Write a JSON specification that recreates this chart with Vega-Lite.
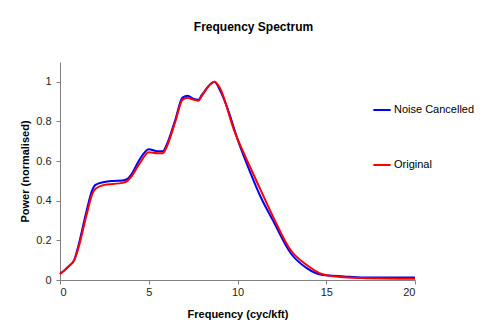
{
  "$schema": "https://vega.github.io/schema/vega-lite/v6.json",
  "autosize": "none",
  "width": 355,
  "height": 218,
  "padding": {"left": 60, "top": 62, "right": 83, "bottom": 53},
  "background": "white",
  "config": {
    "view": {"stroke": null},
    "font": "Liberation Sans",
    "axis": {"labelFont": "Liberation Sans", "labelFontSize": 11, "labelColor": "#222", "titleFont": "Liberation Sans", "titleFontSize": 11, "titleFontWeight": "bold", "titleColor": "#000", "domainColor": "#808080", "tickColor": "#808080", "tickSize": 4, "grid": false}
  },
  "title": {"text": "Frequency Spectrum", "font": "Liberation Sans", "fontSize": 12, "fontWeight": "bold", "color": "#000", "dx": 16, "offset": 28},
  "datasets": {
    "d": [
      {"f": 0, "p": 0.03, "s": "Noise Cancelled"},
      {"f": 0.5, "p": 0.07, "s": "Noise Cancelled"},
      {"f": 0.8, "p": 0.1, "s": "Noise Cancelled"},
      {"f": 1.0, "p": 0.16, "s": "Noise Cancelled"},
      {"f": 1.5, "p": 0.35, "s": "Noise Cancelled"},
      {"f": 1.8, "p": 0.45, "s": "Noise Cancelled"},
      {"f": 2.0, "p": 0.48, "s": "Noise Cancelled"},
      {"f": 2.5, "p": 0.495, "s": "Noise Cancelled"},
      {"f": 3.0, "p": 0.5, "s": "Noise Cancelled"},
      {"f": 3.5, "p": 0.502, "s": "Noise Cancelled"},
      {"f": 3.8, "p": 0.51, "s": "Noise Cancelled"},
      {"f": 4.0, "p": 0.53, "s": "Noise Cancelled"},
      {"f": 4.5, "p": 0.61, "s": "Noise Cancelled"},
      {"f": 5.0, "p": 0.66, "s": "Noise Cancelled"},
      {"f": 5.5, "p": 0.65, "s": "Noise Cancelled"},
      {"f": 5.8, "p": 0.65, "s": "Noise Cancelled"},
      {"f": 6.0, "p": 0.68, "s": "Noise Cancelled"},
      {"f": 6.5, "p": 0.81, "s": "Noise Cancelled"},
      {"f": 6.9, "p": 0.92, "s": "Noise Cancelled"},
      {"f": 7.2, "p": 0.93, "s": "Noise Cancelled"},
      {"f": 7.5, "p": 0.915, "s": "Noise Cancelled"},
      {"f": 7.8, "p": 0.91, "s": "Noise Cancelled"},
      {"f": 8.0, "p": 0.935, "s": "Noise Cancelled"},
      {"f": 8.5, "p": 0.99, "s": "Noise Cancelled"},
      {"f": 8.7, "p": 1.0, "s": "Noise Cancelled"},
      {"f": 9.0, "p": 0.96, "s": "Noise Cancelled"},
      {"f": 9.5, "p": 0.85, "s": "Noise Cancelled"},
      {"f": 10.0, "p": 0.71, "s": "Noise Cancelled"},
      {"f": 10.7, "p": 0.547, "s": "Noise Cancelled"},
      {"f": 11.3, "p": 0.42, "s": "Noise Cancelled"},
      {"f": 12.0, "p": 0.3, "s": "Noise Cancelled"},
      {"f": 13.0, "p": 0.135, "s": "Noise Cancelled"},
      {"f": 13.9, "p": 0.06, "s": "Noise Cancelled"},
      {"f": 14.8, "p": 0.025, "s": "Noise Cancelled"},
      {"f": 16.0, "p": 0.018, "s": "Noise Cancelled"},
      {"f": 17.0, "p": 0.013, "s": "Noise Cancelled"},
      {"f": 20.0, "p": 0.012, "s": "Noise Cancelled"},
      {"f": 0, "p": 0.03, "s": "Original"},
      {"f": 0.5, "p": 0.07, "s": "Original"},
      {"f": 0.8, "p": 0.1, "s": "Original"},
      {"f": 1.0, "p": 0.15, "s": "Original"},
      {"f": 1.5, "p": 0.33, "s": "Original"},
      {"f": 1.8, "p": 0.43, "s": "Original"},
      {"f": 2.0, "p": 0.46, "s": "Original"},
      {"f": 2.5, "p": 0.48, "s": "Original"},
      {"f": 3.0, "p": 0.485, "s": "Original"},
      {"f": 3.5, "p": 0.49, "s": "Original"},
      {"f": 3.8, "p": 0.5, "s": "Original"},
      {"f": 4.0, "p": 0.52, "s": "Original"},
      {"f": 4.5, "p": 0.59, "s": "Original"},
      {"f": 5.0, "p": 0.645, "s": "Original"},
      {"f": 5.5, "p": 0.64, "s": "Original"},
      {"f": 5.8, "p": 0.64, "s": "Original"},
      {"f": 6.0, "p": 0.67, "s": "Original"},
      {"f": 6.5, "p": 0.8, "s": "Original"},
      {"f": 6.9, "p": 0.91, "s": "Original"},
      {"f": 7.2, "p": 0.92, "s": "Original"},
      {"f": 7.5, "p": 0.91, "s": "Original"},
      {"f": 7.8, "p": 0.905, "s": "Original"},
      {"f": 8.0, "p": 0.93, "s": "Original"},
      {"f": 8.5, "p": 0.99, "s": "Original"},
      {"f": 8.7, "p": 1.0, "s": "Original"},
      {"f": 9.0, "p": 0.97, "s": "Original"},
      {"f": 9.8, "p": 0.757, "s": "Original"},
      {"f": 10.7, "p": 0.572, "s": "Original"},
      {"f": 11.3, "p": 0.455, "s": "Original"},
      {"f": 12.0, "p": 0.32, "s": "Original"},
      {"f": 13.0, "p": 0.15, "s": "Original"},
      {"f": 13.9, "p": 0.076, "s": "Original"},
      {"f": 14.8, "p": 0.029, "s": "Original"},
      {"f": 15.8, "p": 0.015, "s": "Original"},
      {"f": 17.0, "p": 0.01, "s": "Original"},
      {"f": 20.0, "p": 0.006, "s": "Original"}
    ]
  },
  "data": {"name": "d"},
  "mark": {"type": "line", "interpolate": "monotone", "strokeWidth": 2},
  "encoding": {
    "x": {"field": "f", "type": "quantitative", "title": "Frequency (cyc/kft)", "scale": {"domain": [0, 20], "nice": false}, "axis": {"values": [0, 5, 10, 15, 20], "titlePadding": 11}},
    "y": {"field": "p", "type": "quantitative", "title": "Power (normalised)", "scale": {"domain": [0, 1.1], "nice": false}, "axis": {"values": [0, 0.2, 0.4, 0.6, 0.8, 1], "format": ".1~f", "labelPadding": 5, "titlePadding": 5}},
    "color": {"field": "s", "type": "nominal", "scale": {"domain": ["Noise Cancelled", "Original"], "range": ["#0000FF", "#FF0000"]},
      "legend": {"title": null, "orient": "none", "legendX": 312, "legendY": 38, "symbolType": "stroke", "symbolSize": 300, "symbolStrokeWidth": 2, "labelFont": "Liberation Sans", "labelFontSize": 11, "labelColor": "#000", "rowPadding": 40, "labelOffset": 2}}
  }
}
